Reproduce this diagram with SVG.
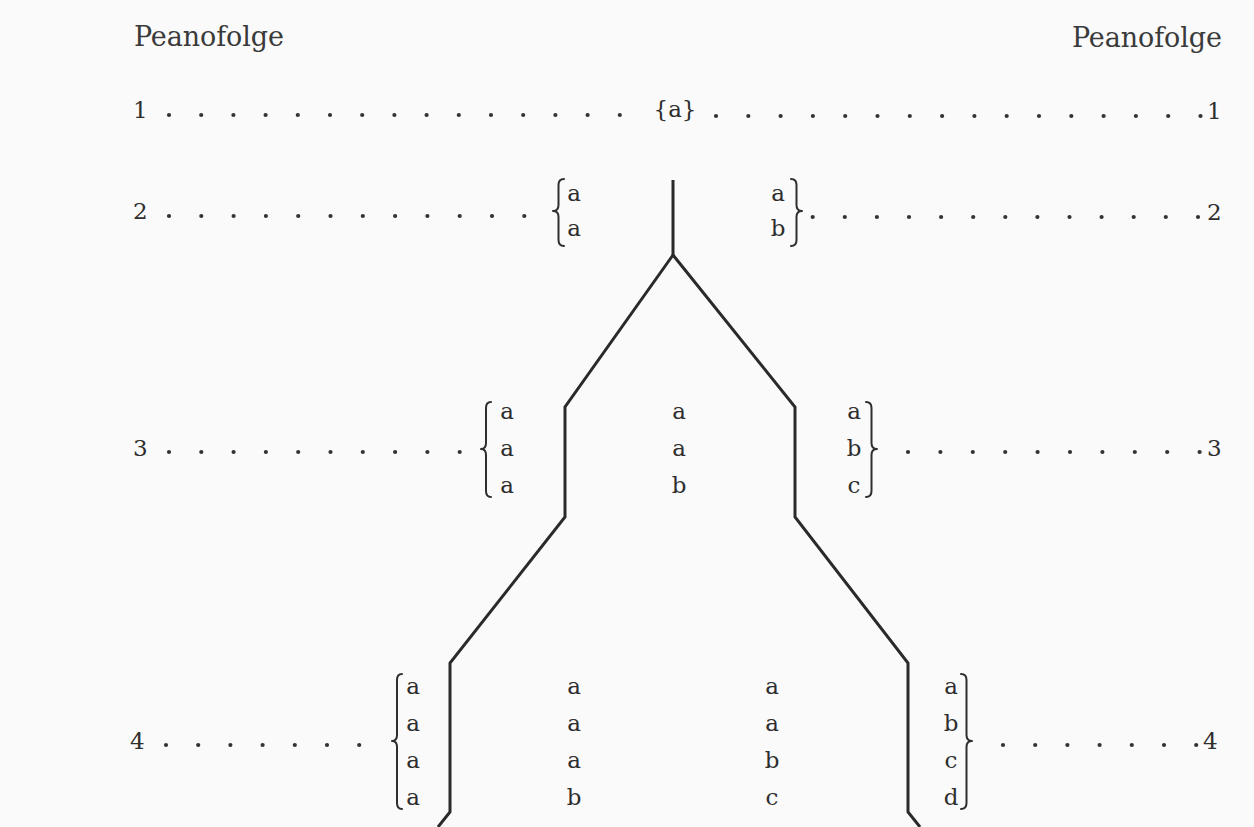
<svg xmlns="http://www.w3.org/2000/svg" width="1254" height="827" viewBox="0 0 1254 827">
<style>
.t{font-family:"DejaVu Serif","Liberation Serif",serif;fill:#2e2e2e;font-size:23px}
.h{font-family:"DejaVu Serif","Liberation Serif",serif;fill:#3a3a3a;font-size:27px}
.c{text-anchor:middle}
.br{fill:none;stroke:#2e2e2e;stroke-width:2;stroke-linecap:round;stroke-linejoin:round}
.ln{fill:none;stroke:#2a2a2a;stroke-width:3;stroke-linejoin:miter}
</style>
<defs>
<circle id="d" r="2.1" fill="#333"/>
</defs>
<rect width="1254" height="827" fill="#fafafa"/>
<g id="headers">
<text class="h" x="134" y="46" textLength="150">Peanofolge</text>
<text class="h" x="1072" y="47" textLength="150">Peanofolge</text>
</g>
<g id="connectors">
<path class="ln" d="M673 180 L673 255"/>
<path class="ln" d="M673 255 L565 407 L565 517 L450 663 L450 812 L438 827"/>
<path class="ln" d="M673 255 L795 407 L795 517 L908 663 L908 812 L920 827"/>
</g>
<g id="row1">
<text class="t" x="133" y="118">1</text>
<use href="#d" x="169" y="115"/><use href="#d" x="201.2" y="115"/><use href="#d" x="233.4" y="115"/><use href="#d" x="265.6" y="115"/><use href="#d" x="297.8" y="115"/><use href="#d" x="330" y="115"/><use href="#d" x="362.2" y="115"/><use href="#d" x="394.4" y="115"/><use href="#d" x="426.6" y="115"/><use href="#d" x="458.8" y="115"/><use href="#d" x="491" y="115"/><use href="#d" x="523.2" y="115"/><use href="#d" x="555.4" y="115"/><use href="#d" x="587.6" y="115"/><use href="#d" x="619.8" y="115"/>
<use href="#d" x="716" y="116"/><use href="#d" x="748.3" y="116"/><use href="#d" x="780.6" y="116"/><use href="#d" x="812.9" y="116"/><use href="#d" x="845.2" y="116"/><use href="#d" x="877.5" y="116"/><use href="#d" x="909.8" y="116"/><use href="#d" x="942.1" y="116"/><use href="#d" x="974.4" y="116"/><use href="#d" x="1006.7" y="116"/><use href="#d" x="1039" y="116"/><use href="#d" x="1071.3" y="116"/><use href="#d" x="1103.6" y="116"/><use href="#d" x="1135.9" y="116"/><use href="#d" x="1168.2" y="116"/><use href="#d" x="1200.5" y="116"/>
<text class="t c" x="675" y="117">{a}</text>
<text class="t" x="1207" y="119">1</text>
</g>
<g id="row2">
<text class="t" x="133" y="219">2</text>
<use href="#d" x="169" y="216"/><use href="#d" x="201.3" y="216"/><use href="#d" x="233.6" y="216"/><use href="#d" x="265.9" y="216"/><use href="#d" x="298.2" y="216"/><use href="#d" x="330.5" y="216"/><use href="#d" x="362.8" y="216"/><use href="#d" x="395.1" y="216"/><use href="#d" x="427.4" y="216"/><use href="#d" x="459.7" y="216"/><use href="#d" x="492" y="216"/><use href="#d" x="524.3" y="216"/>
<path class="br" d="M564 179 Q558.5 179 558.5 185 L558.5 205 Q558.5 211 553 211 Q558.5 211 558.5 217 L558.5 240 Q558.5 246 564 246"/>
<text class="t c" x="574" y="201">a</text><text class="t c" x="574" y="236">a</text>
<text class="t c" x="778" y="201">a</text><text class="t c" x="778" y="236">b</text>
<path class="br" d="M791 179 Q796.5 179 796.5 185 L796.5 205 Q796.5 211 802 211 Q796.5 211 796.5 217 L796.5 240 Q796.5 246 791 246"/>
<use href="#d" x="812.7" y="217"/><use href="#d" x="844.8" y="217"/><use href="#d" x="876.9" y="217"/><use href="#d" x="909" y="217"/><use href="#d" x="941.1" y="217"/><use href="#d" x="973.2" y="217"/><use href="#d" x="1005.3" y="217"/><use href="#d" x="1037.4" y="217"/><use href="#d" x="1069.5" y="217"/><use href="#d" x="1101.6" y="217"/><use href="#d" x="1133.7" y="217"/><use href="#d" x="1165.8" y="217"/><use href="#d" x="1198" y="217"/>
<text class="t" x="1207" y="220">2</text>
</g>
<g id="row3">
<text class="t" x="133" y="456">3</text>
<use href="#d" x="169" y="452"/><use href="#d" x="201.3" y="452"/><use href="#d" x="233.6" y="452"/><use href="#d" x="265.9" y="452"/><use href="#d" x="298.2" y="452"/><use href="#d" x="330.5" y="452"/><use href="#d" x="362.8" y="452"/><use href="#d" x="395.1" y="452"/><use href="#d" x="427.4" y="452"/><use href="#d" x="459.7" y="452"/>
<path class="br" d="M491 402 Q486 402 486 408 L486 443 Q486 449 481 449 Q486 449 486 455 L486 491 Q486 497 491 497"/>
<text class="t c" x="507" y="419">a</text><text class="t c" x="507" y="456">a</text><text class="t c" x="507" y="493">a</text>
<text class="t c" x="679" y="419">a</text><text class="t c" x="679" y="456">a</text><text class="t c" x="679" y="493">b</text>
<text class="t c" x="854" y="419">a</text><text class="t c" x="854" y="456">b</text><text class="t c" x="854" y="493">c</text>
<path class="br" d="M866 402 Q871.5 402 871.5 408 L871.5 443 Q871.5 449 877 449 Q871.5 449 871.5 455 L871.5 491 Q871.5 497 866 497"/>
<use href="#d" x="908" y="452"/><use href="#d" x="940.4" y="452"/><use href="#d" x="972.8" y="452"/><use href="#d" x="1005.2" y="452"/><use href="#d" x="1037.6" y="452"/><use href="#d" x="1070" y="452"/><use href="#d" x="1102.4" y="452"/><use href="#d" x="1134.8" y="452"/><use href="#d" x="1167.2" y="452"/><use href="#d" x="1199.6" y="452"/>
<text class="t" x="1207" y="456">3</text>
</g>
<g id="row4">
<text class="t" x="130" y="749">4</text>
<use href="#d" x="166" y="745"/><use href="#d" x="198.2" y="745"/><use href="#d" x="230.4" y="745"/><use href="#d" x="262.6" y="745"/><use href="#d" x="294.8" y="745"/><use href="#d" x="327" y="745"/><use href="#d" x="359.2" y="745"/>
<path class="br" d="M402 674 Q397 674 397 680 L397 735 Q397 741 392 741 Q397 741 397 747 L397 803 Q397 809 402 809"/>
<text class="t c" x="413" y="694">a</text><text class="t c" x="413" y="731">a</text><text class="t c" x="413" y="768">a</text><text class="t c" x="413" y="805">a</text>
<text class="t c" x="574" y="694">a</text><text class="t c" x="574" y="731">a</text><text class="t c" x="574" y="768">a</text><text class="t c" x="574" y="805">b</text>
<text class="t c" x="772" y="694">a</text><text class="t c" x="772" y="731">a</text><text class="t c" x="772" y="768">b</text><text class="t c" x="772" y="805">c</text>
<text class="t c" x="951" y="694">a</text><text class="t c" x="951" y="731">b</text><text class="t c" x="951" y="768">c</text><text class="t c" x="951" y="805">d</text>
<path class="br" d="M961 674 Q966.5 674 966.5 680 L966.5 735 Q966.5 741 972 741 Q966.5 741 966.5 747 L966.5 803 Q966.5 809 961 809"/>
<use href="#d" x="1003" y="745"/><use href="#d" x="1035.2" y="745"/><use href="#d" x="1067.4" y="745"/><use href="#d" x="1099.6" y="745"/><use href="#d" x="1131.8" y="745"/><use href="#d" x="1164" y="745"/><use href="#d" x="1196.2" y="745"/>
<text class="t" x="1203" y="749">4</text>
</g>
</svg>
